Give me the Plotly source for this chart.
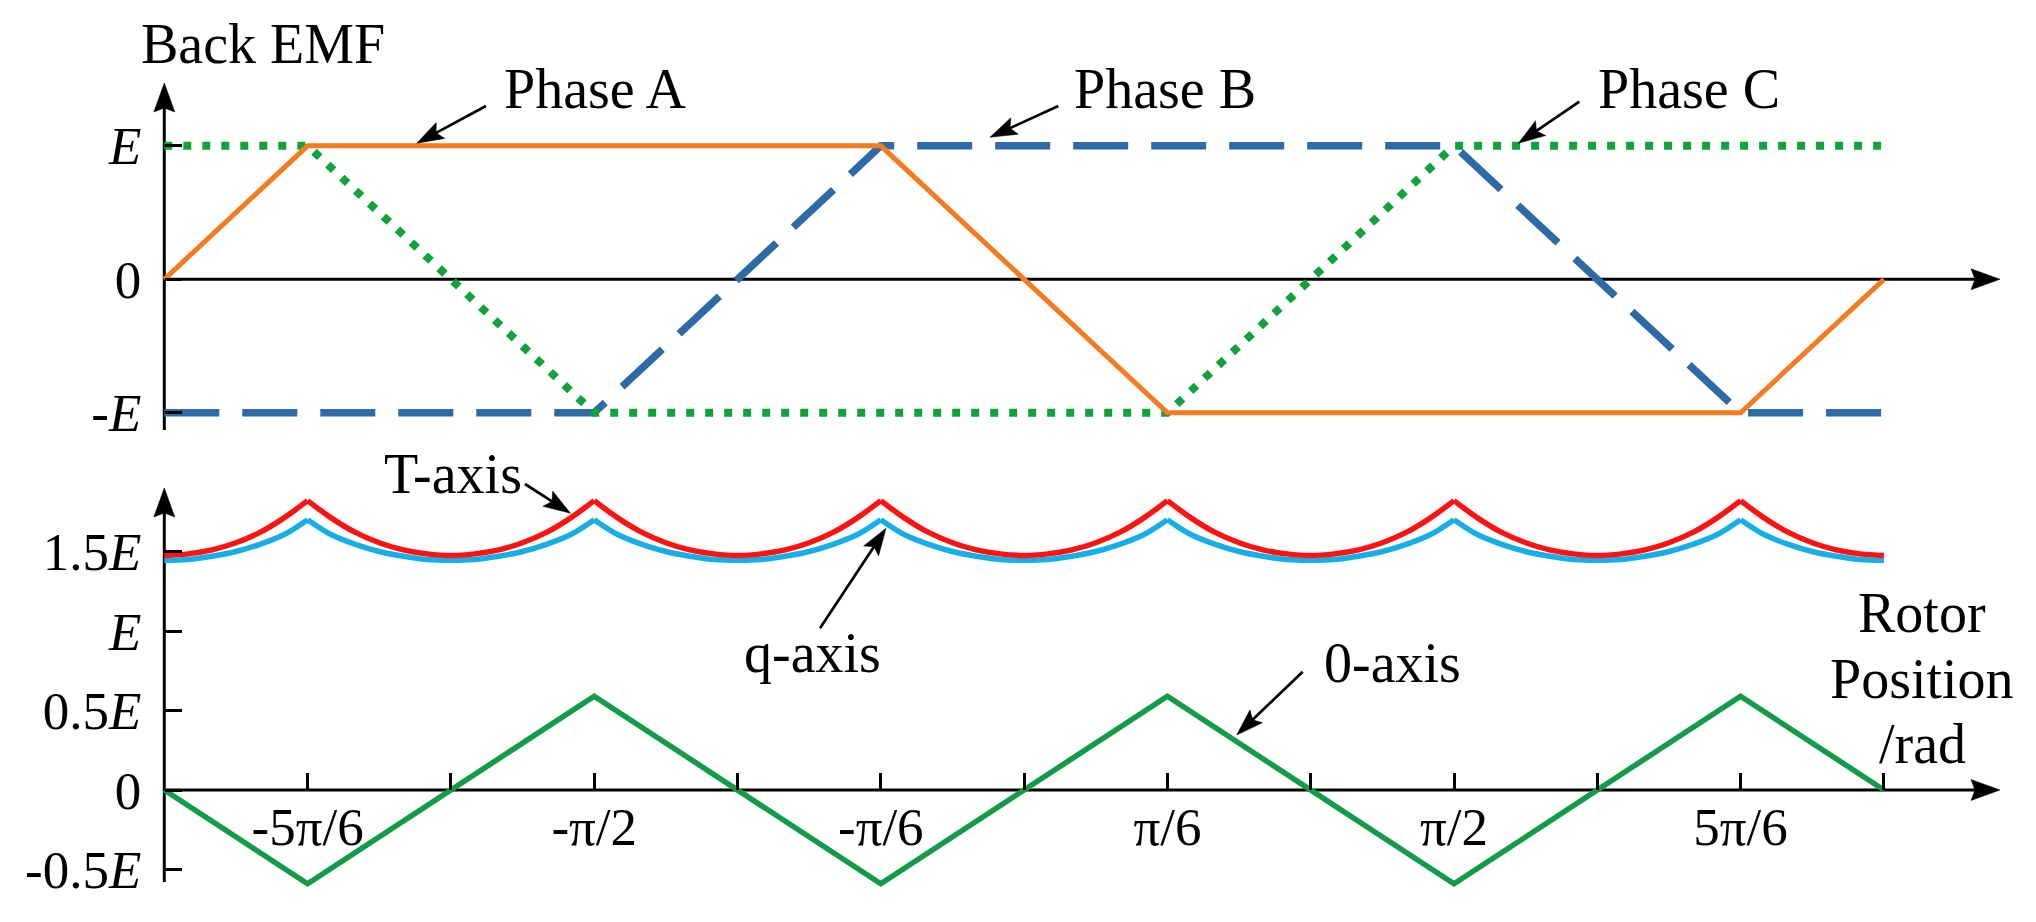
import numpy as np
import plotly.graph_objects as go

PI = np.pi

# ---------------- data (rotor position in units of pi rad) ----------------
phase_a_x = [-1, -5/6, -1/6, 1/6, 5/6, 1]
phase_a_y = [0, 1, 1, -1, -1, 0]
phase_b_x = [-1, -1/2, -1/6, 1/2, 5/6, 1]
phase_b_y = [-1, -1, 1, 1, -1, -1]
phase_c_x = [-1, -5/6, -1/2, 1/6, 1/2, 1]
phase_c_y = [1, 1, -1, -1, 1, 1]

zero_axis_x = [-1, -5/6, -1/2, -1/6, 1/6, 1/2, 5/6, 1]
zero_axis_y = [0, -0.59, 0.59, -0.59, 0.59, -0.59, 0.59, 0]

tq_deg = list(range(-180, 181, 5))  # rotor position samples, degrees
t_axis_y = [
    1.475, 1.485, 1.51, 1.555, 1.62, 1.71, 1.82, 1.71, 1.62, 1.555, 1.51, 1.485,
    1.475, 1.485, 1.51, 1.555, 1.62, 1.71, 1.82, 1.71, 1.62, 1.555, 1.51, 1.485,
    1.475, 1.485, 1.51, 1.555, 1.62, 1.71, 1.82, 1.71, 1.62, 1.555, 1.51, 1.485,
    1.475, 1.485, 1.51, 1.555, 1.62, 1.71, 1.82, 1.71, 1.62, 1.555, 1.51, 1.485,
    1.475, 1.485, 1.51, 1.555, 1.62, 1.71, 1.82, 1.71, 1.62, 1.555, 1.51, 1.485,
    1.475, 1.485, 1.51, 1.555, 1.62, 1.71, 1.82, 1.71, 1.62, 1.555, 1.51, 1.485,
    1.475,
]
q_axis_y = [
    1.445, 1.45, 1.47, 1.50, 1.545, 1.605, 1.70, 1.605, 1.545, 1.50, 1.47, 1.45,
    1.445, 1.45, 1.47, 1.50, 1.545, 1.605, 1.70, 1.605, 1.545, 1.50, 1.47, 1.45,
    1.445, 1.45, 1.47, 1.50, 1.545, 1.605, 1.70, 1.605, 1.545, 1.50, 1.47, 1.45,
    1.445, 1.45, 1.47, 1.50, 1.545, 1.605, 1.70, 1.605, 1.545, 1.50, 1.47, 1.45,
    1.445, 1.45, 1.47, 1.50, 1.545, 1.605, 1.70, 1.605, 1.545, 1.50, 1.47, 1.45,
    1.445, 1.45, 1.47, 1.50, 1.545, 1.605, 1.70, 1.605, 1.545, 1.50, 1.47, 1.45,
    1.445,
]

x_tick_pos = [-5/6, -2/3, -1/2, -1/3, -1/6, 0, 1/6, 1/3, 1/2, 2/3, 5/6, 1]
x_tick_text = ['-5π/6', '', '-π/2', '', '-π/6', '', 'π/6', '', 'π/2', '', '5π/6', '']
top_y_ticks = [1, 0, -1]
top_y_text = ['<i>E</i>', '0', '-<i>E</i>']
bot_y_ticks = [1.5, 1, 0.5, 0, -0.5]
bot_y_text = ['1.5<i>E</i>', '<i>E</i>', '0.5<i>E</i>', '0', '-0.5<i>E</i>']

# ---------------- geometry (pixels) ----------------
W, H = 2036, 922
X_ORIGIN = 164.3          # pixel of -pi
PX_PER_PI = 143.3 * 6
TOP_ZERO, TOP_PX_E = 279.3, 133.5
BOT_ZERO, BOT_PX_E = 790.0, 159.0

FONT = "Liberation Serif, Times New Roman, serif"
ORANGE = '#F47B20'
BLUE_DASH = '#2E6BA6'
GREEN_DOT = '#10A33C'
RED = '#FF1212'
LIGHT_BLUE = '#17AEE6'
GREEN_0 = '#139A4A'


def px(xp):
    return xp / W


def py(yp):
    return 1 - yp / H


def xval(xp):
    return (-1 + (xp - X_ORIGIN) / PX_PER_PI) * PI


x_range = [xval(140), xval(1995)]
x_domain = [px(140), px(1995)]

top_dom_px = (40, 450)
bot_dom_px = (470, 905)

fig = go.Figure()

rad = lambda arr: [v * PI for v in arr]


def split_at_peaks(xs, ys):
    """Break a curve into separate smooth arcs at its cusps (local maxima)."""
    ox, oy = [], []
    for i, (x, y) in enumerate(zip(xs, ys)):
        ox.append(x)
        oy.append(y)
        if 0 < i < len(ys) - 1 and ys[i] > ys[i - 1] and ys[i] > ys[i + 1]:
            ox += [None, x]
            oy += [None, y]
    return ox, oy


fig.add_trace(go.Scatter(x=rad(phase_b_x), y=phase_b_y, mode='lines', xaxis='x', yaxis='y',
                         line=dict(color=BLUE_DASH, width=7.5, dash='55px,23px'), name='Phase B'))
fig.add_trace(go.Scatter(x=rad(phase_c_x), y=phase_c_y, mode='lines', xaxis='x', yaxis='y',
                         line=dict(color=GREEN_DOT, width=8, dash='8px,11px'), name='Phase C'))
fig.add_trace(go.Scatter(x=rad(phase_a_x), y=phase_a_y, mode='lines', xaxis='x', yaxis='y',
                         line=dict(color=ORANGE, width=5), name='Phase A'))

tq_x = [d * PI / 180 for d in tq_deg]
qx, qy = split_at_peaks(tq_x, q_axis_y)
tx, ty = split_at_peaks(tq_x, t_axis_y)
fig.add_trace(go.Scatter(x=qx, y=qy, mode='lines', xaxis='x2', yaxis='y2', connectgaps=False,
                         line=dict(color=LIGHT_BLUE, width=5.5, shape='spline', smoothing=1),
                         name='q-axis'))
fig.add_trace(go.Scatter(x=tx, y=ty, mode='lines', xaxis='x2', yaxis='y2', connectgaps=False,
                         line=dict(color=RED, width=5.5, shape='spline', smoothing=1),
                         name='T-axis'))
fig.add_trace(go.Scatter(x=rad(zero_axis_x), y=zero_axis_y, mode='lines', xaxis='x2', yaxis='y2',
                         line=dict(color=GREEN_0, width=5.5), name='0-axis'))

tickfont = dict(family=FONT, size=53, color='black')

common_x = dict(domain=x_domain, range=x_range, anchor='free', showline=False,
                showgrid=False, zeroline=False, fixedrange=True)
common_y = dict(anchor='free', position=px(X_ORIGIN), showline=False, showgrid=False,
                zeroline=False, ticks='inside', ticklen=17, tickwidth=2.5, tickcolor='black',
                tickfont=tickfont, ticklabelstandoff=23, fixedrange=True)

fig.update_layout(
    width=W, height=H,
    margin=dict(l=0, r=0, t=0, b=0),
    paper_bgcolor='white', plot_bgcolor='rgba(0,0,0,0)',
    showlegend=False,
    xaxis=dict(**common_x, position=py(TOP_ZERO), ticks='', showticklabels=False),
    yaxis=dict(**common_y,
               domain=[py(top_dom_px[1]), py(top_dom_px[0])],
               range=[(TOP_ZERO - top_dom_px[1]) / TOP_PX_E, (TOP_ZERO - top_dom_px[0]) / TOP_PX_E],
               tickvals=top_y_ticks, ticktext=top_y_text),
    xaxis2=dict(**common_x, position=py(BOT_ZERO), ticks='inside', ticklen=17, tickwidth=2.5,
                tickcolor='black', tickvals=rad(x_tick_pos), ticktext=x_tick_text,
                tickfont=tickfont, ticklabelstandoff=1),
    yaxis2=dict(**common_y,
                domain=[py(bot_dom_px[1]), py(bot_dom_px[0])],
                range=[(BOT_ZERO - bot_dom_px[1]) / BOT_PX_E, (BOT_ZERO - bot_dom_px[0]) / BOT_PX_E],
                tickvals=bot_y_ticks, ticktext=bot_y_text),
)

shapes = []


def line_px(x0, y0, x1, y1, w=3, layer='below'):
    shapes.append(dict(type='line', xref='paper', yref='paper', x0=px(x0), y0=py(y0),
                       x1=px(x1), y1=py(y1), line=dict(color='black', width=w), layer=layer))


def head_px(tip, tail, L, hw, notch):
    tx_, ty_ = tip
    dx, dy = tx_ - tail[0], ty_ - tail[1]
    n = (dx * dx + dy * dy) ** 0.5
    dx, dy = dx / n, dy / n
    nx, ny = -dy, dx
    bx, by = tx_ - L * dx, ty_ - L * dy
    pts = [(tx_, ty_), (bx + hw * nx, by + hw * ny), (tx_ - (L - notch) * dx, ty_ - (L - notch) * dy),
           (bx - hw * nx, by - hw * ny)]
    path = 'M ' + ' L '.join(f'{px(a):.5f},{py(b):.5f}' for a, b in pts) + ' Z'
    shapes.append(dict(type='path', xref='paper', yref='paper', path=path,
                       fillcolor='black', line=dict(color='black', width=0.5), layer='above'))
    return bx + notch * dx, by + notch * dy


# axes with arrowheads
TIP_X = 2000
line_px(X_ORIGIN, 430, X_ORIGIN, 100)
head_px((X_ORIGIN, 83), (X_ORIGIN, 430), 29, 10.5, 4)
line_px(X_ORIGIN, TOP_ZERO, 1985, TOP_ZERO)
head_px((TIP_X, TOP_ZERO), (X_ORIGIN, TOP_ZERO), 29, 10.5, 4)
line_px(X_ORIGIN, 882, X_ORIGIN, 505)
head_px((X_ORIGIN, 488), (X_ORIGIN, 882), 29, 10.5, 4)
line_px(X_ORIGIN, BOT_ZERO, 1985, BOT_ZERO)
head_px((TIP_X, BOT_ZERO), (X_ORIGIN, BOT_ZERO), 29, 10.5, 4)

# label arrows (tail -> tip)
label_arrows = [
    ((486, 106), (416.7, 143.3)),
    ((1058.3, 106), (990, 137.3)),
    ((1579.3, 101.7), (1518.3, 143.3)),
    ((525, 484), (570.5, 513.3)),
    ((820, 628.3), (886, 528.3)),
    ((1302.7, 671.7), (1236.7, 735)),
]
for tail, tip in label_arrows:
    bx, by = head_px(tip, tail, 27, 9, 5)
    line_px(tail[0], tail[1], bx, by, w=2.7, layer='above')

fig.update_layout(shapes=shapes)

labfont = dict(family=FONT, size=56, color='black')
labels = [
    ('Back EMF', 263, 44.4, 'center'),
    ('Phase A', 502, 89.4, 'left'),
    ('Phase B', 1071.7, 89.4, 'left'),
    ('Phase C', 1595.8, 89.4, 'left'),
    ('T-axis', 381.7, 474.4, 'left'),
    ('q-axis', 741.7, 652.8, 'left'),
    ('0-axis', 1321.7, 662.8, 'left'),
    ('Rotor', 1922, 612.8, 'center'),
    ('Position', 1922, 679.4, 'center'),
    ('/rad', 1922, 744.4, 'center'),
]
fig.update_layout(annotations=[
    dict(text=t, x=px(x), y=py(y), xref='paper', yref='paper', xanchor=a, yanchor='middle',
         showarrow=False, font=labfont)
    for t, x, y, a in labels
])

fig.write_html("out.html", config={'displayModeBar': False},
               post_script="document.body.style.margin='0';document.body.style.overflow='hidden';")
